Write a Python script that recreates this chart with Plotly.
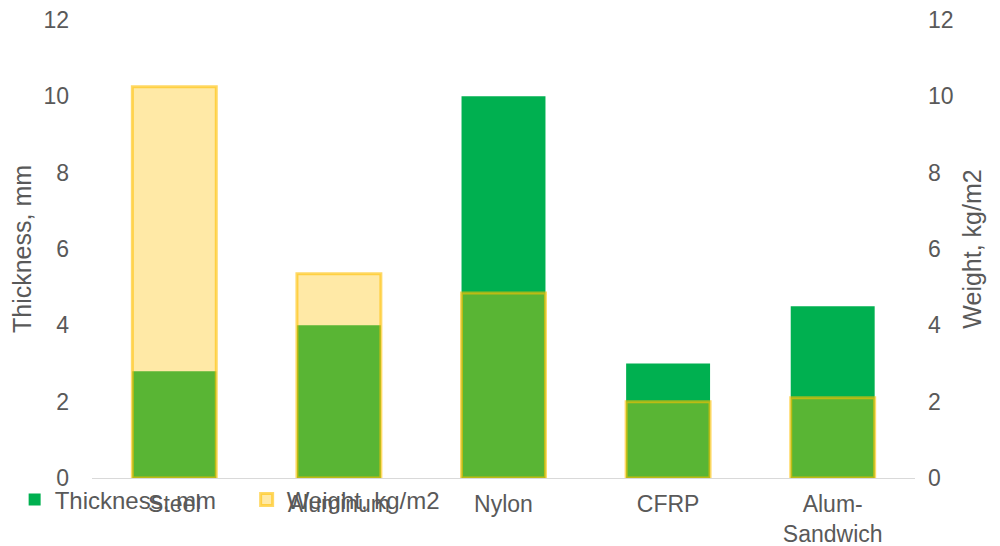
import plotly.graph_objects as go

categories = ["Steel", "Aluminum", "Nylon", "CFRP", "Alum-<br>Sandwich"]
thickness_mm = [2.8, 4.0, 10.0, 3.0, 4.5]
weight_kg_m2 = [10.25, 5.35, 4.85, 2.0, 2.1]
y_ticks = [0, 2, 4, 6, 8, 10, 12]

FONT = "Liberation Sans, Arial, sans-serif"
TXT = "#595959"

fig = go.Figure()
fig.add_trace(go.Bar(
    x=categories, y=thickness_mm, name="Thickness, mm",
    marker=dict(color="#00b050", line=dict(width=0)),
    width=0.51, yaxis="y",
))
fig.add_trace(go.Bar(
    x=categories, y=weight_kg_m2, name="Weight, kg/m2",
    marker=dict(color="rgba(255,192,0,0.35)",
                line=dict(color="rgba(255,192,0,0.6)", width=3)),
    width=0.51, yaxis="y2",
))

fig.update_layout(
    width=1000, height=546,
    margin=dict(l=92, r=85, t=20, b=68, autoexpand=False),
    paper_bgcolor="white", plot_bgcolor="white",
    barmode="overlay",
    font=dict(family=FONT, color=TXT, size=23),
    showlegend=True,
    legend=dict(orientation="h", x=-0.094, xanchor="left", y=-0.048, yanchor="middle",
                font=dict(size=24, color=TXT), bgcolor="rgba(0,0,0,0)",
                itemwidth=30, entrywidth=187, entrywidthmode="pixels", traceorder="normal"),
    xaxis=dict(showline=True, linecolor="#d9d9d9", linewidth=1, showgrid=False,
               ticks="", ticklabelstandoff=5, automargin=False,
               tickfont=dict(size=23, color=TXT), fixedrange=True),
    yaxis=dict(range=[0, 12], tickvals=y_ticks, showgrid=False, zeroline=False,
               showline=False, ticks="", ticklabelstandoff=22, automargin=False,
               tickfont=dict(size=23, color=TXT),
               title=dict(text="Thickness, mm", font=dict(size=25, color=TXT), standoff=4)),
    yaxis2=dict(range=[0, 12], tickvals=y_ticks, overlaying="y", side="right",
                showgrid=False, zeroline=False, showline=False, ticks="",
                ticklabelstandoff=12, automargin=False,
                tickfont=dict(size=23, color=TXT),
                title=dict(text="Weight, kg/m2", font=dict(size=25, color=TXT), standoff=10)),
)

fig.write_html("out.html")
